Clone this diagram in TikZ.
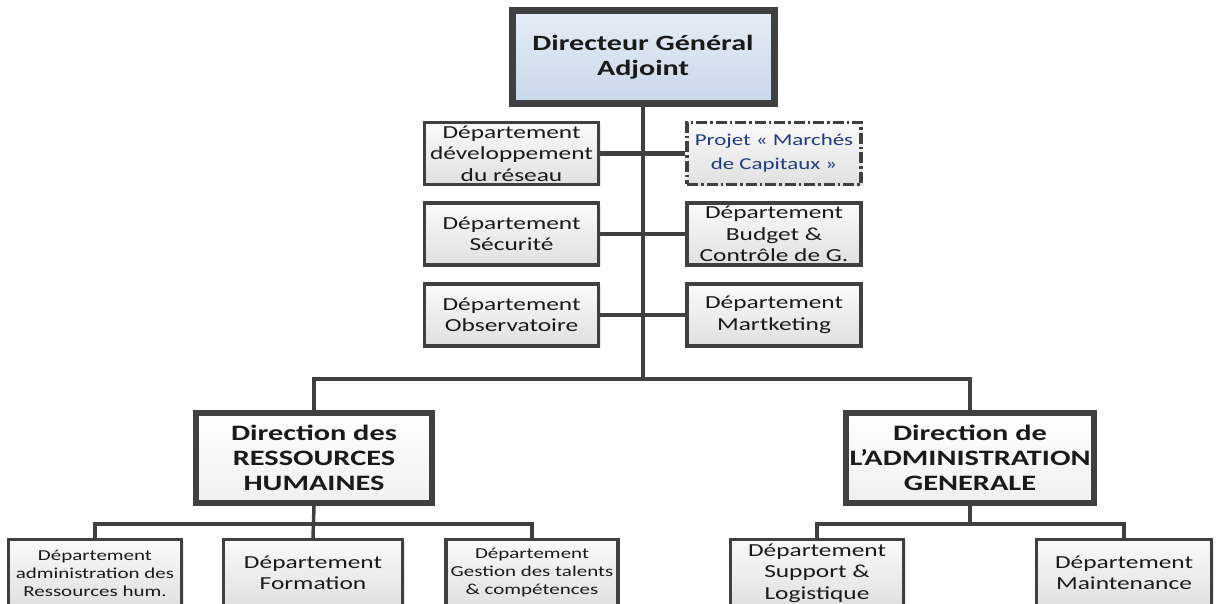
\documentclass[tikz,border=0pt]{standalone}
\usepackage{fontspec}
\setmainfont{Carlito}[FakeStretch=1.38]
\usetikzlibrary{shadows}
\definecolor{edge}{HTML}{404040}
\definecolor{ink}{HTML}{1A1A1A}
\definecolor{projink}{HTML}{1F3C80}
\definecolor{blueTop}{HTML}{E6EDF6}
\definecolor{blueBot}{HTML}{C9D7EB}
\tikzset{
  box/.style={draw=edge, line width=3.3pt, inner sep=0pt, align=center,
    text=ink, top color=gray!4, bottom color=gray!24,
    drop shadow={shadow xshift=2pt, shadow yshift=-2pt, opacity=.2}},
  dept/.style={box, minimum width=174pt, minimum height=62pt,
    font=\fontsize{18.4}{21.5}\selectfont},
  small/.style={font=\fontsize{15.2}{18}\selectfont},
  head/.style={box, line width=4pt, minimum height=92pt,
    font=\bfseries\fontsize{22}{25}\selectfont, top color=white, bottom color=gray!12},
  chief/.style={box, line width=7pt, minimum width=262pt, minimum height=93pt,
    font=\bfseries\fontsize{21.8}{25}\selectfont, top color=blueTop, bottom color=blueBot},
  project/.style={dept, dash pattern=on 11pt off 3pt on 2.5pt off 3pt, text=projink,
    font=\fontsize{16.6}{24}\selectfont},
  link/.style={draw=edge, line width=3.5pt},
  trunk/.style={link, line width=4.5pt},
  inner line/.style={draw=edge, line width=1.5pt}
}
\begin{document}
\begin{tikzpicture}[x=1pt, y=-1pt]
\useasboundingbox (0,0) rectangle (1221,604);
\clip (0,0) rectangle (1221,604);

% top of the chart
\node[chief] (dga) at (643,57) {Directeur Général\\Adjoint};

% staff departments attached to the main trunk
\node[dept] (dev) at (511.5,153.5) {Département\\développement\\du réseau};
\node[dept] (sec) at (511.5,234) {Département\\Sécurité};
\node[dept] (obs) at (511.5,315) {Département\\Observatoire};
\node[project] (proj) at (774,153.5) {Projet « Marchés\\de Capitaux »};
\node[dept] (bud) at (774,234) {Département\\Budget \&\\Contrôle de G.};
\node[dept] (mkt) at (774,315) {Département\\Martketing};

% the two directions
\node[head, minimum width=238pt] (drh) at (314,458) {Direction des\\RESSOURCES\\HUMAINES};
\node[head, minimum width=250pt] (dag) at (970,458) {Direction de\\L’ADMINISTRATION\\GENERALE};
\foreach \n in {drh,dag}
  \draw[inner line] ([xshift=5pt,yshift=-5pt]\n.north west) rectangle ([xshift=-5pt,yshift=5pt]\n.south east);

% departments under each direction
\node[dept, small, minimum width=173pt, minimum height=67pt] (adm) at (95,573) {Département\\administration des\\Ressources hum.};
\node[dept, minimum width=179pt, minimum height=67pt] (frm) at (313,573) {Département\\Formation};
\node[dept, small, minimum width=172pt, minimum height=67pt] (tal) at (532,573) {Département\\Gestion des talents\\\& compétences};
\node[dept, minimum width=173pt, minimum height=67pt] (sup) at (817,573) {Département\\Support \&\\Logistique};
\node[dept, minimum width=175pt, minimum height=67pt] (mnt) at (1124,573) {Département\\Maintenance};

% connectors
\coordinate (bus) at (643,379);
\coordinate (lowbar) at (0,524);
\draw[trunk] (dga.south) -- (bus);
\draw[trunk] (dev.east) -- (proj.west);
\draw[trunk] (sec.east) -- (bud.west);
\draw[trunk] (obs.east) -- (mkt.west);
\draw[link] (drh.north) |- (bus) -| (dag.north);
\draw[link] (drh.south) -- (frm.north);
\draw[link] (adm.north) |- (lowbar -| drh) -| (tal.north);
\draw[link] (dag.south) -- (lowbar -| dag);
\draw[link] (sup.north) |- (lowbar -| dag) -| (mnt.north);
\end{tikzpicture}
\end{document}
